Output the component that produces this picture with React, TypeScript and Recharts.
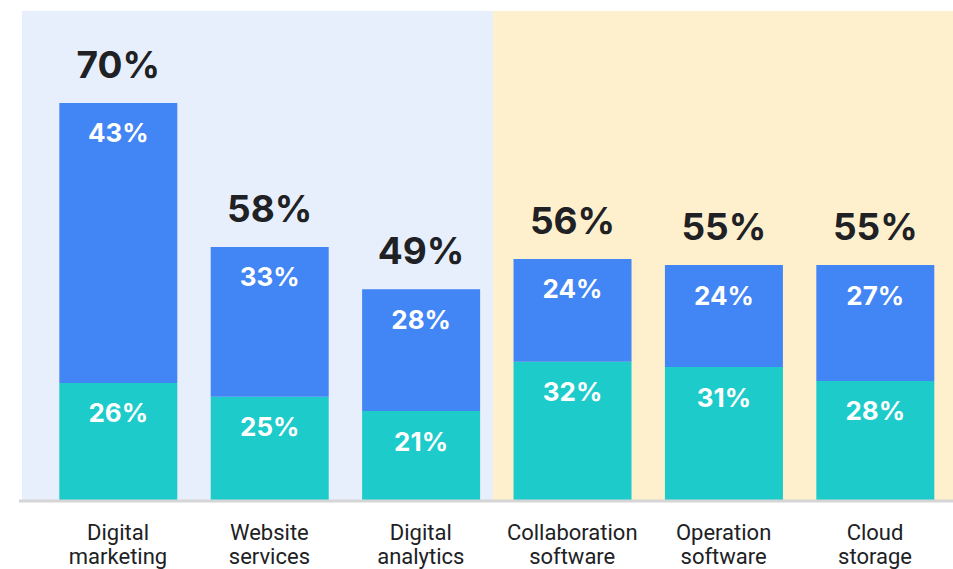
import { BarChart, Bar, XAxis, YAxis, ReferenceArea, LabelList } from 'recharts';

// category names, split into the two lines shown under each bar
const categories = [
  ['Digital', 'marketing'],
  ['Website', 'services'],
  ['Digital', 'analytics'],
  ['Collaboration', 'software'],
  ['Operation', 'software'],
  ['Cloud', 'storage'],
];

// segment heights as drawn (in % units)
const bottomShare = [27.3, 24.1, 20.8, 32.2, 31.0, 27.8];
const topShare = [64.8, 34.7, 28.2, 23.8, 23.6, 26.8];

// printed labels
const bottomLabels = [26, 25, 21, 32, 31, 28];
const topLabels = [43, 33, 28, 24, 24, 27];
const totalLabels = [70, 58, 49, 56, 55, 55];

const tickPositions = [0, 1, 2, 3, 4, 5];

const chartData = categories.map((_, index) => ({
  pos: index,
  bottom: bottomShare[index],
  top: topShare[index],
  bottomLabel: bottomLabels[index],
  topLabel: topLabels[index],
  totalLabel: totalLabels[index],
}));

const BLUE = '#4285f4';
const TEAL = '#1ccbca';
const INK = '#202124';
const NUM_FONT = 'Inter, Roboto, sans-serif';

const CategoryTick = (props: any) => {
  const { x, y, payload } = props;
  const lines = categories[payload.value] ?? [];
  return (
    <text x={x} y={y} textAnchor="middle" fill={INK} fontSize={22} fontFamily="Roboto, sans-serif">
      {lines.map((line, i) => (
        <tspan key={i} x={x} dy={i === 0 ? 39 : 24}>{line}</tspan>
      ))}
    </text>
  );
};

const pct = (v: any) => `${v}%`;

export default function App() {
  return (
    <div style={{ position: 'absolute', left: 0, top: 0, width: 953, height: 569, background: '#fff' }}>
      <BarChart
        width={953}
        height={569}
        data={chartData}
        margin={{ top: 11, right: 0, left: 19, bottom: 0 }}
      >
        <XAxis
          type="number"
          dataKey="pos"
          domain={[-0.654, 5.515]}
          allowDataOverflow
          ticks={tickPositions}
          interval={0}
          tick={<CategoryTick />}
          tickLine={false}
          tickSize={0}
          tickMargin={0}
          height={68}
          axisLine={{ stroke: '#d5d5d5', strokeWidth: 3 }}
        />
        <YAxis hide domain={[0, 113.4]} allowDataOverflow />
        <ReferenceArea x1={-0.634} x2={2.477} fill="#e8effc" fillOpacity={1} ifOverflow="visible" />
        <ReferenceArea x1={2.477} x2={5.515} fill="#fff0cd" fillOpacity={1} ifOverflow="visible" />
        <Bar dataKey="bottom" stackId="a" fill={TEAL} barSize={118} isAnimationActive={false}>
          <LabelList
            dataKey="bottomLabel"
            position="insideTop"
            offset={21}
            fill="#fff"
            fontSize={26}
            fontWeight={700}
            fontFamily={NUM_FONT}
            formatter={pct}
          />
        </Bar>
        <Bar dataKey="top" stackId="a" fill={BLUE} barSize={118} isAnimationActive={false}>
          <LabelList
            dataKey="topLabel"
            position="insideTop"
            offset={21}
            fill="#fff"
            fontSize={26}
            fontWeight={700}
            fontFamily={NUM_FONT}
            formatter={pct}
          />
          <LabelList
            dataKey="totalLabel"
            position="top"
            offset={25}
            fill={INK}
            fontSize={37}
            fontWeight={700}
            fontFamily={NUM_FONT}
            formatter={pct}
          />
        </Bar>
      </BarChart>
    </div>
  );
}
